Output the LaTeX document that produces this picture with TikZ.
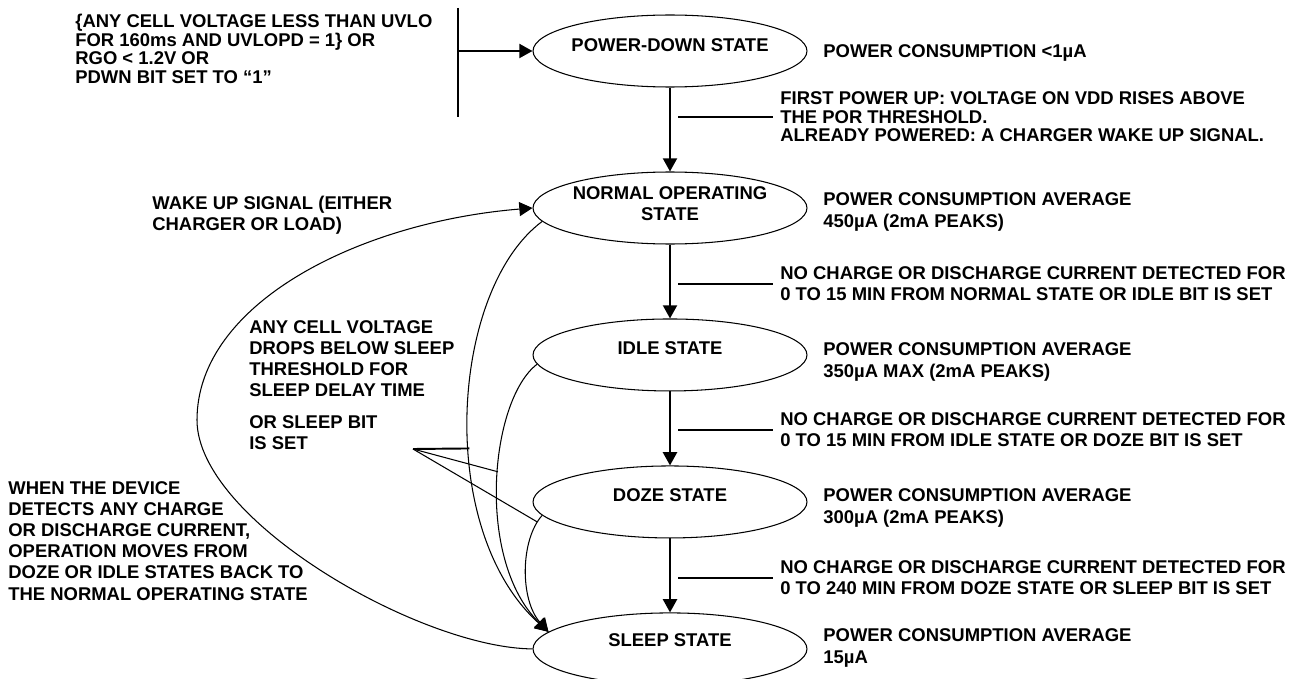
\documentclass[tikz,border=0pt]{standalone}
\usepackage{fontspec}
\setmainfont{Liberation Sans}
\usetikzlibrary{shapes.geometric}
\usetikzlibrary{positioning}
\usetikzlibrary{arrows.meta}

\begin{document}
\begin{tikzpicture}[x=0.02cm, y=-0.02cm, node distance=2.94cm,
        every node/.style={font=\fontsize{10.5}{12}\selectfont\bfseries},
        state/.style={draw, ellipse, line width=0.6pt, minimum width=5.48cm, minimum height=1.44cm, inner sep=0pt},
        txt/.style={align=left, anchor=west, inner sep=0pt},
        tight/.style={font=\fontsize{10.5}{10.6}\selectfont\bfseries},
        flow/.style={line width=1.1pt, -{Triangle[width=8pt,length=7.5pt]}},
        back/.style={line width=0.6pt, -{Triangle[width=8pt,length=7.5pt]}},
        tick/.style={line width=1.1pt},
        thin_leader/.style={line width=0.6pt}]
            \useasboundingbox (0,0) rectangle (1298,679);
            % states
            \node[state, label={[yshift=3.4pt]center:POWER-DOWN STATE}] (pdown) at (670,51) {};
            \node[state, label={[yshift=2.6pt, align=center]center:{NORMAL OPERATING\\STATE}}] (normal) at (670,208) {};
            \node[state, below of=normal, label={[yshift=3.6pt]center:IDLE STATE}] (idle) {};
            \node[state, below of=idle, label={[yshift=4pt]center:DOZE STATE}] (doze) {};
            \node[state, below of=doze, label={[yshift=5pt]center:SLEEP STATE}] (sleep) {};
            % side texts
            \node[txt, tight] (uvlo) at (75,49) {\{ANY CELL VOLTAGE LESS THAN UVLO\\FOR 160ms AND UVLOPD = 1\} OR\\RGO < 1.2V OR\\PDWN BIT SET TO “1”};
            \node[txt] (pd_cons) at (823,53) {POWER CONSUMPTION <1µA};
            \node[txt, tight] (power_up) at (780,117) {FIRST POWER UP: VOLTAGE ON VDD RISES ABOVE\\THE POR THRESHOLD.\\ALREADY POWERED: A CHARGER WAKE UP SIGNAL.};
            \node[txt] (normal_cons) at (823,212) {POWER CONSUMPTION AVERAGE\\450µA (2mA PEAKS)};
            \node[txt] (to_idle) at (780,284) {NO CHARGE OR DISCHARGE CURRENT DETECTED FOR\\0 TO 15 MIN FROM NORMAL STATE OR IDLE BIT IS SET};
            \node[txt] (idle_cons) at (823,362) {POWER CONSUMPTION AVERAGE\\350µA MAX (2mA PEAKS)};
            \node[txt] (to_doze) at (780,430) {NO CHARGE OR DISCHARGE CURRENT DETECTED FOR\\0 TO 15 MIN FROM IDLE STATE OR DOZE BIT IS SET};
            \node[txt] (doze_cons) at (823,508) {POWER CONSUMPTION AVERAGE\\300µA (2mA PEAKS)};
            \node[txt] (to_sleep) at (780,578) {NO CHARGE OR DISCHARGE CURRENT DETECTED FOR\\0 TO 240 MIN FROM DOZE STATE OR SLEEP BIT IS SET};
            \node[txt] (sleep_cons) at (823,648) {POWER CONSUMPTION AVERAGE\\15µA};
            \node[txt] (wake) at (152,215) {WAKE UP SIGNAL (EITHER\\CHARGER OR LOAD)};
            \node[txt] (drops) at (249,359) {ANY CELL VOLTAGE\\DROPS BELOW SLEEP\\THRESHOLD FOR\\SLEEP DELAY TIME};
            \node[txt] (sleep_bit) at (249,433) {OR SLEEP BIT\\IS SET};
            \node[txt] (detects) at (8,541) {WHEN THE DEVICE\\DETECTS ANY CHARGE\\OR DISCHARGE CURRENT,\\OPERATION MOVES FROM\\DOZE OR IDLE STATES BACK TO\\THE NORMAL OPERATING STATE};
            % main chain
            \coordinate (bar_top) at (458,8);
            \coordinate (bar_bot) at (458,117);
            \draw[tick] (bar_top) -- (bar_bot);
            \draw[flow] (bar_top |- pdown.west) -- (pdown.west);
            \draw[flow] (pdown) -- (normal);
            \draw[flow] (normal) -- (idle);
            \draw[flow] (idle) -- (doze);
            \draw[flow] (doze) -- (sleep);
            \draw[tick] ([xshift=-4pt]power_up.west) -- ++(-95,0);
            \draw[tick] ([xshift=-4pt]to_idle.west) -- ++(-95,0);
            \draw[tick] ([xshift=-4pt]to_doze.west) -- ++(-95,0);
            \draw[tick] ([xshift=-4pt]to_sleep.west) -- ++(-95,0);
            % wake up and sleep paths
            \draw[back] (sleep.west) .. controls (420,648) and (197,520) .. (197,420) .. controls (197,303) and (360,222) .. (normal.west);
            \draw[back] (normal.186) .. controls (450,290) and (435,530) .. (sleep.172) coordinate[pos=0.57] (on_normal);
            \draw[back] (idle.184) .. controls (490,400) and (475,560) .. (sleep.172) coordinate[pos=0.46] (on_idle);
            \draw[back] (doze.186) .. controls (520,540) and (520,600) .. (sleep.172) coordinate[pos=0.08] (on_doze);
            \coordinate (hub) at (413,449);
            \draw[tick] (hub) -- (on_normal);
            \draw[thin_leader] (hub) -- (on_idle);
            \draw[thin_leader] (hub) -- (on_doze);
        \end{tikzpicture}
\end{document}
